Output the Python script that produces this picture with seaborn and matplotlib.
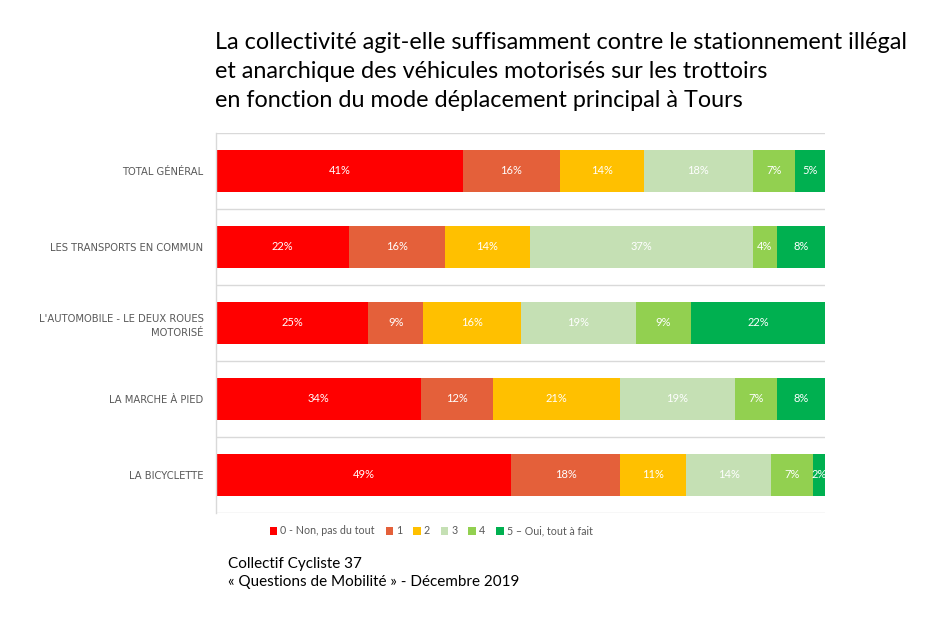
import matplotlib
matplotlib.use("Agg")
import matplotlib.pyplot as plt
from matplotlib.patches import Patch
import numpy as np
import pandas as pd
import seaborn as sns

categories = ["TOTAL GÉNÉRAL", "LES TRANSPORTS EN COMMUN",
              "L'AUTOMOBILE - LE DEUX ROUES\nMOTORISÉ", "LA MARCHE À PIED", "LA BICYCLETTE"]
series = ["0 - Non, pas du tout", "1", "2", "3", "4", "5 – Oui, tout à fait"]
non_pas_du_tout = [41, 22, 25, 34, 49]
note_1 = [16, 16, 9, 12, 18]
note_2 = [14, 14, 16, 21, 11]
note_3 = [18, 37, 19, 19, 14]
note_4 = [7, 4, 9, 7, 7]
oui_tout_a_fait = [5, 8, 22, 8, 2]
colors = ["#FF0000", "#E4603A", "#FFC000", "#C5E0B4", "#92D050", "#00B050"]

title = ("La collectivité agit-elle suffisamment contre le stationnement illégal\n"
         "et anarchique des véhicules motorisés sur les trottoirs\n"
         "en fonction du mode déplacement principal à Tours")
source = "Collectif Cycliste 37\n« Questions de Mobilité » - Décembre 2019"

sns.set_theme(style="white")
plt.rcParams['font.family'] = ['Lato', 'DejaVu Sans']

values = np.array([non_pas_du_tout, note_1, note_2, note_3, note_4, oui_tout_a_fait], dtype=float)
shares = values / values.sum(axis=0) * 100
cum = shares.cumsum(axis=0)

fig = plt.figure(figsize=(9.41, 6.22), dpi=100)
ax = fig.add_axes([216 / 941, 1 - 513 / 622, (825 - 216) / 941, (513 - 133) / 622])

# overlapping cumulative bars, widest first
for i in reversed(range(len(series))):
    df = pd.DataFrame({"cat": categories, "val": cum[i]})
    sns.barplot(data=df, x="val", y="cat", orient="h", color=colors[i],
                width=0.55, saturation=1, ax=ax, linewidth=0)

for i in range(len(series)):
    for j in range(len(categories)):
        ax.text(cum[i, j] - shares[i, j] / 2, j, f"{int(values[i, j])}%",
                ha="center", va="center", color="white", fontsize=8)

ax.set_xlim(0, 100)
ax.set_ylim(len(categories) - 0.5, -0.5)
ax.set_xlabel("")
ax.set_ylabel("")
ax.set_xticks([])
ax.set_yticks(np.arange(len(categories)))
ax.set_yticklabels(categories, fontsize=7.2, color="#595959", linespacing=1.5)
for lab in ax.get_yticklabels():
    lab.set_family("DejaVu Sans")
    lab.set_horizontalalignment("right")
ax.tick_params(axis="y", length=0, pad=9)
ax.set_yticks(np.arange(len(categories) + 1) - 0.5, minor=True)
ax.tick_params(axis="y", which="minor", length=0)
ax.grid(True, which="minor", axis="y", color="#D9D9D9", linewidth=1)
ax.set_axisbelow(True)
for s in ["top", "right", "bottom"]:
    ax.spines[s].set_visible(False)
ax.spines["left"].set_color("#D9D9D9")
ax.spines["left"].set_linewidth(1)

handles = [Patch(facecolor=c, edgecolor="none") for c in colors]
fig.legend(handles, series, loc="center left", bbox_to_anchor=(260 / 941, 1 - 531 / 622),
           ncol=6, frameon=False, fontsize=7.7, handlelength=0.7, handleheight=0.7,
           handletextpad=0.3, columnspacing=1.0, labelcolor="#595959")

fig.text(215 / 941, 1 - 32 / 622, title, ha="left", va="top", fontsize=16.8,
         color="black", linespacing=1.46)
fig.text(228 / 941, 1 - 557 / 622, source, ha="left", va="top", fontsize=11,
         color="black", linespacing=1.35)

fig.savefig("out.png", dpi=100)
